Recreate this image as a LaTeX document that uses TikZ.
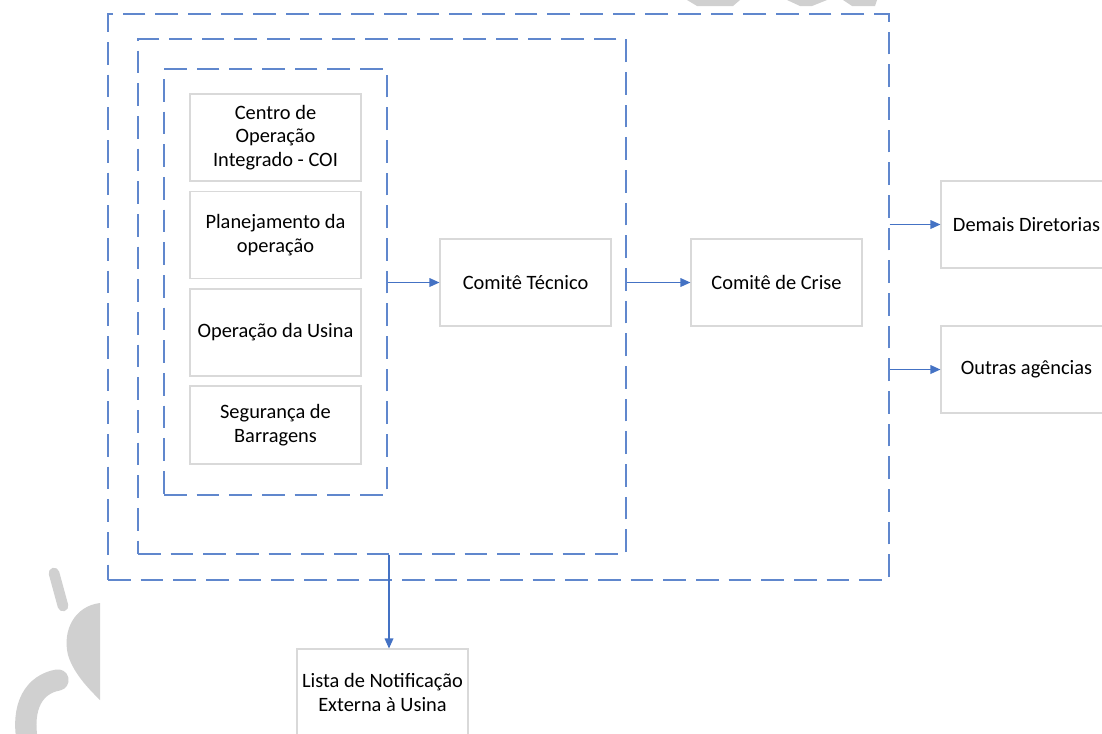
\documentclass[tikz,border=0pt]{standalone}
\usepackage{fontspec}
\setmainfont{Carlito}
\usetikzlibrary{arrows.meta}
\definecolor{obl}{HTML}{4472C4}
\definecolor{bgr}{HTML}{D9D9D9}
\definecolor{wm}{HTML}{D0D0D0}
\tikzset{
  box/.style={draw=bgr, line width=0.8pt, fill=white, align=center, inner sep=2pt,
     minimum width=128.25pt, minimum height=65.25pt,
     font=\fontsize{15.3}{17.8}\selectfont},
  dashbox/.style={draw=obl!85, line width=1.1pt, dash pattern=on 17pt off 7.5pt, inner sep=0pt},
  arr/.style={draw=obl, line width=0.9pt, -{Triangle[length=7.5pt,width=6.5pt]}},
  wmark/.style={draw=wm, line width=8pt, line cap=round}
}
\begin{document}
\begin{tikzpicture}[x=0.75pt,y=-0.75pt]
\useasboundingbox (0,0) rectangle (1102,733);
\clip (0,0) rectangle (1102,733);
\fill[white] (0,0) rectangle (1102,733);
% watermark fragments
\begin{scope}
\clip (0,0) rectangle (100,733);
\draw[wmark] (54,573) -- (63,606);
\fill[wm] (100,603) .. controls (75,606) and (62,630) .. (68,655)
          .. controls (74,675) and (92,692) .. (100,700) -- cycle;
\draw[draw=wm, line width=16pt, line cap=round] (58,680) .. controls (35,684) and (20,705) .. (28,745);
\end{scope}
\fill[wm] (687,0) -- (740,0) -- (733,6) -- (697,6) -- cycle;
\fill[wm] (787,0) -- (827,0) -- (812,6) -- (800,6) -- cycle;
\fill[wm] (843,0) -- (877,0) -- (875,6) -- (852,6) -- cycle;
% dashed containers
\node[dashbox, minimum width=585.75pt, minimum height=424.5pt] (outer) at (498.5,297) {};
\node[dashbox, minimum width=366pt, minimum height=386.25pt] (mid) at (382,296.5) {};
\node[dashbox, minimum width=167.25pt, minimum height=319.5pt] (inner) at (275.5,282) {};
% boxes
\node[box] (coi) at (275.5,137.5) {Centro de\\Operação\\Integrado - COI};
\node[box] (plan) at (275.5,235) {Planejamento da\\operação};
\node[box] (op) at (275.5,332.5) {Operação da Usina};
\node[box, minimum height=58.5pt] (seg) at (275.5,425) {Segurança de\\Barragens};
\node[box] (ct) at (525.5,282.5) {Comitê Técnico};
\node[box] (crise) at (776.5,282.5) {Comitê de Crise};
\node[box] (demais) at (1026.5,224.5) {Demais Diretorias};
\node[box] (outras) at (1026.5,369.5) {Outras agências};
\node[box] (lista) at (382.5,692.5) {Lista de Notificação\\Externa à Usina};
% connectors
\coordinate (lx) at (389,0);
\draw[arr] (ct.west -| inner.east) -- (ct.west);
\draw[arr] (crise.west -| mid.east) -- (crise.west);
\draw[arr] (demais.west -| outer.east) -- (demais.west);
\draw[arr] (outras.west -| outer.east) -- (outras.west);
\draw[arr] (mid.south -| lx) -- (lista.north -| lx);
\end{tikzpicture}
\end{document}
